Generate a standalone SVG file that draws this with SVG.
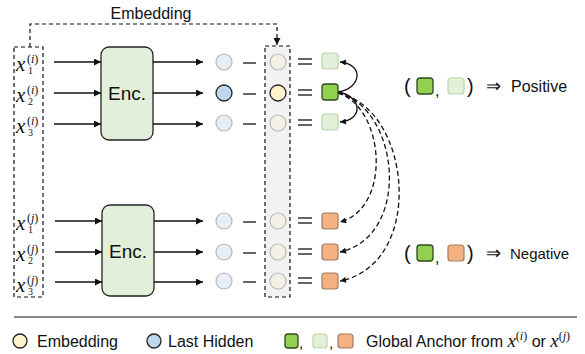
<svg xmlns="http://www.w3.org/2000/svg" width="585" height="354" viewBox="0 0 585 354">
<style>
.t{font-family:"Liberation Sans",Arial,sans-serif;fill:#111}
.m{font-family:"Liberation Serif","Times New Roman",serif;fill:#111}
.mi{font-family:"Liberation Serif","Times New Roman",serif;font-style:italic;fill:#111}
.ln{stroke:#111;stroke-width:1.3;fill:none}
.dsh{stroke:#111;stroke-width:1.2;fill:none;stroke-dasharray:4,3}
.enc{fill:#e2efd9;stroke:#222;stroke-width:1.3}
.hl{fill:#e8eef8;stroke:#b8b8b8;stroke-width:1.2}
.ha{fill:#bdd7ee;stroke:#222;stroke-width:1.3}
.el{fill:#f3f1e4;stroke:#b8b8b8;stroke-width:1.2}
.ea{fill:#fff2cc;stroke:#222;stroke-width:1.3}
.sg{fill:#92d050;stroke:#2f4a1e;stroke-width:1.3}
.sl{fill:#e2f0d9;stroke:#bcd2ae;stroke-width:1.2}
.so{fill:#f4b183;stroke:#a27a62;stroke-width:1.2}
.op{stroke:#333;stroke-width:1.5}
</style>
<defs>
<marker id="ah" viewBox="0 0 10 10" refX="10" refY="5" markerWidth="8" markerHeight="7" orient="auto" markerUnits="userSpaceOnUse"><path d="M0,0 L10,5 L0,10 z" fill="#111"/></marker>
<marker id="ah2" viewBox="0 0 10 10" refX="10" refY="5" markerWidth="7" markerHeight="6" orient="auto" markerUnits="userSpaceOnUse"><path d="M0,0 L10,5 L0,10 z" fill="#111"/></marker>
</defs>

<g id="embedding-band"><rect x="265" y="46" width="25" height="251" fill="#f2f2f2" stroke="#111" stroke-width="1.2" stroke-dasharray="4,3"/></g>
<g id="input-box"><rect x="14" y="47" width="29" height="250" class="dsh"/></g>
<text class="t" x="151" y="19" font-size="16" text-anchor="middle">Embedding</text>

<g id="inputs-i">
<text class="mi" x="16" y="71" font-size="21">x</text><text class="m" x="28" y="74" font-size="10">1</text><text class="m" x="27" y="63" font-size="12">(<tspan font-style="italic">i</tspan>)</text>
<text class="mi" x="16" y="102" font-size="21">x</text><text class="m" x="28" y="105" font-size="10">2</text><text class="m" x="27" y="94" font-size="12">(<tspan font-style="italic">i</tspan>)</text>
<text class="mi" x="16" y="133" font-size="21">x</text><text class="m" x="28" y="136" font-size="10">3</text><text class="m" x="27" y="125" font-size="12">(<tspan font-style="italic">i</tspan>)</text>
</g>
<g id="inputs-j">
<text class="mi" x="16" y="230" font-size="21">x</text><text class="m" x="28" y="233" font-size="10">1</text><text class="m" x="27" y="222" font-size="12">(<tspan font-style="italic">j</tspan>)</text>
<text class="mi" x="16" y="261" font-size="21">x</text><text class="m" x="28" y="264" font-size="10">2</text><text class="m" x="27" y="253" font-size="12">(<tspan font-style="italic">j</tspan>)</text>
<text class="mi" x="16" y="292" font-size="21">x</text><text class="m" x="28" y="295" font-size="10">3</text><text class="m" x="27" y="284" font-size="12">(<tspan font-style="italic">j</tspan>)</text>
</g>

<g id="enc-i"><rect x="101" y="47" width="52" height="93" rx="8" class="enc"/><text class="t" x="127" y="100" font-size="19" text-anchor="middle">Enc.</text></g>
<g id="enc-j"><rect x="102" y="205" width="52" height="91" rx="8" class="enc"/><text class="t" x="128" y="258" font-size="19" text-anchor="middle">Enc.</text></g>

<g id="connectors">
<path d="M30,47 V24 H277 V45" class="dsh" marker-end="url(#ah)"/>
<line x1="54" y1="62" x2="101" y2="62" class="ln" marker-end="url(#ah)"/>
<line x1="54" y1="93" x2="101" y2="93" class="ln" marker-end="url(#ah)"/>
<line x1="54" y1="124" x2="101" y2="124" class="ln" marker-end="url(#ah)"/>
<line x1="153" y1="62" x2="203" y2="62" class="ln" marker-end="url(#ah)"/>
<line x1="153" y1="93" x2="203" y2="93" class="ln" marker-end="url(#ah)"/>
<line x1="153" y1="124" x2="203" y2="124" class="ln" marker-end="url(#ah)"/>
<line x1="55" y1="221" x2="102" y2="221" class="ln" marker-end="url(#ah)"/>
<line x1="55" y1="252" x2="102" y2="252" class="ln" marker-end="url(#ah)"/>
<line x1="55" y1="282" x2="102" y2="282" class="ln" marker-end="url(#ah)"/>
<line x1="154" y1="221" x2="203" y2="221" class="ln" marker-end="url(#ah)"/>
<line x1="154" y1="252" x2="203" y2="252" class="ln" marker-end="url(#ah)"/>
<line x1="154" y1="282" x2="203" y2="282" class="ln" marker-end="url(#ah)"/>
<path d="M338,92 C362,88 364,64 340,62" class="ln" marker-end="url(#ah2)"/>
<path d="M338,92 C362,96 364,120 340,122" class="ln" marker-end="url(#ah2)"/>
<path d="M338,93 C385,108 392,208 340,222" class="ln" stroke-dasharray="5,3" marker-end="url(#ah2)"/>
<path d="M338,93 C400,108 412,236 340,252" class="ln" stroke-dasharray="5,3" marker-end="url(#ah2)"/>
<path d="M338,93 C412,108 426,264 340,281" class="ln" stroke-dasharray="5,3" marker-end="url(#ah2)"/>
</g>

<g id="row-i1"><circle cx="224" cy="62" r="8" class="hl"/><line x1="243" y1="63" x2="256" y2="63" class="op"/><circle cx="278" cy="62" r="8" class="el"/><line x1="298" y1="59" x2="312" y2="59" class="op"/><line x1="298" y1="64" x2="312" y2="64" class="op"/><rect x="322" y="53" width="16" height="16" rx="3" class="sl"/></g>
<g id="row-i2"><circle cx="224" cy="93" r="8" class="ha"/><line x1="243" y1="94" x2="256" y2="94" class="op"/><circle cx="278" cy="93" r="8" class="ea"/><line x1="298" y1="90" x2="312" y2="90" class="op"/><line x1="298" y1="95" x2="312" y2="95" class="op"/><rect x="322" y="84" width="16" height="16" rx="3" class="sg"/></g>
<g id="row-i3"><circle cx="224" cy="123" r="8" class="hl"/><line x1="243" y1="124" x2="256" y2="124" class="op"/><circle cx="278" cy="123" r="8" class="el"/><line x1="298" y1="120" x2="312" y2="120" class="op"/><line x1="298" y1="125" x2="312" y2="125" class="op"/><rect x="322" y="114" width="16" height="16" rx="3" class="sl"/></g>
<g id="row-j1"><circle cx="224" cy="221" r="8" class="hl"/><line x1="243" y1="222" x2="256" y2="222" class="op"/><circle cx="278" cy="221" r="8" class="el"/><line x1="298" y1="218" x2="312" y2="218" class="op"/><line x1="298" y1="223" x2="312" y2="223" class="op"/><rect x="322" y="213" width="16" height="16" rx="3" class="so"/></g>
<g id="row-j2"><circle cx="224" cy="252" r="8" class="hl"/><line x1="243" y1="253" x2="256" y2="253" class="op"/><circle cx="278" cy="252" r="8" class="el"/><line x1="298" y1="249" x2="312" y2="249" class="op"/><line x1="298" y1="254" x2="312" y2="254" class="op"/><rect x="322" y="244" width="16" height="16" rx="3" class="so"/></g>
<g id="row-j3"><circle cx="224" cy="281" r="8" class="hl"/><line x1="243" y1="282" x2="256" y2="282" class="op"/><circle cx="278" cy="281" r="8" class="el"/><line x1="298" y1="278" x2="312" y2="278" class="op"/><line x1="298" y1="283" x2="312" y2="283" class="op"/><rect x="322" y="273" width="16" height="16" rx="3" class="so"/></g>

<g id="positive">
<text class="t" x="404" y="93" font-size="20">(</text>
<rect x="417" y="78" width="16" height="16" rx="3" class="sg"/>
<text class="t" x="435" y="96" font-size="16">,</text>
<rect x="448" y="78" width="16" height="16" rx="3" class="sl"/>
<text class="t" x="467" y="93" font-size="20">)</text>
<text class="m" x="486" y="92" font-size="18">⇒</text>
<text class="t" x="511" y="92" font-size="16">Positive</text>
</g>
<g id="negative">
<text class="t" x="404" y="260" font-size="20">(</text>
<rect x="417" y="245" width="16" height="16" rx="3" class="sg"/>
<text class="t" x="435" y="263" font-size="16">,</text>
<rect x="448" y="245" width="16" height="16" rx="3" class="so"/>
<text class="t" x="467" y="260" font-size="20">)</text>
<text class="m" x="486" y="259" font-size="18">⇒</text>
<text class="t" x="510" y="259" font-size="15">Negative</text>
</g>

<g id="legend">
<line x1="14" y1="317" x2="577" y2="317" stroke="#111" stroke-width="1.2"/>
<circle cx="20" cy="341" r="7" class="ea"/>
<text class="t" x="37" y="347" font-size="16">Embedding</text>
<circle cx="154" cy="341" r="7" class="ha"/>
<text class="t" x="168" y="347" font-size="16">Last Hidden</text>
<rect x="285" y="334" width="13" height="14" rx="3" class="sg"/>
<text class="t" x="299" y="348" font-size="15">,</text>
<rect x="313" y="334" width="14" height="14" rx="3" class="sl"/>
<text class="t" x="329" y="348" font-size="15">,</text>
<rect x="338" y="334" width="15" height="14" rx="3" class="so"/>
<text class="t" x="366" y="347" font-size="16">Global Anchor from <tspan class="mi" font-size="19">x</tspan><tspan class="m" font-size="12" dy="-7">(<tspan font-style="italic">i</tspan>)</tspan><tspan dy="7"> or </tspan><tspan class="mi" font-size="19">x</tspan><tspan class="m" font-size="12" dy="-7">(<tspan font-style="italic">j</tspan>)</tspan></text>
</g>
</svg>
